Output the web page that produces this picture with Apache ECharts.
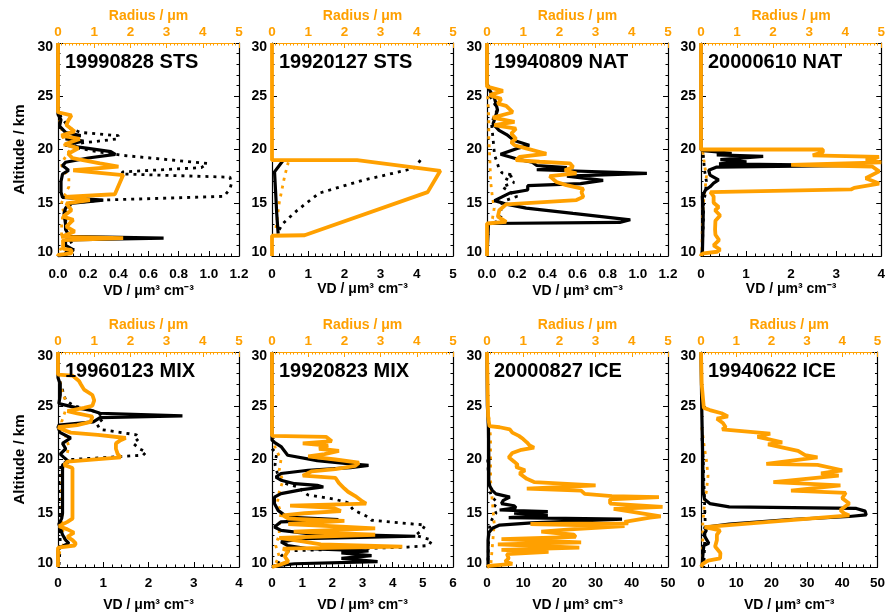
<!DOCTYPE html>
<html>
<head>
<meta charset="utf-8">
<script src="https://cdn.jsdelivr.net/npm/echarts@6/dist/echarts.min.js"></script>
<style>
html,body{margin:0;padding:0;background:#fff;}
#chart{width:888px;height:616px;}
</style>
</head>
<body>
<div id="chart"></div>
<script>
// ---------- DATA ----------
const panelTitles = ['19990828 STS','19920127 STS','19940809 NAT','20000610 NAT','19960123 MIX','19920823 MIX','20000827 ICE','19940622 ICE'];
const vdMax = [1.2, 5, 1.2, 4, 4, 6, 50, 50];
const vdStep = [0.2, 1, 0.2, 1, 1, 1, 10, 10];
const vdDecimals = [1, 0, 1, 0, 0, 0, 0, 0];
const radiusTicks = [0, 1, 2, 3, 4, 5];
const altitudeTicks = [10, 15, 20, 25, 30];

// each point: [value, altitude km]
// Panel 1: 19990828 STS
const p1VD = [[0,30],[0,23.3],[0.02,22.8],[0.01,22.2],[0.05,21.6],[0.15,21.3],[0.05,21.0],[0.17,20.8],[0.05,20.4],[0.2,20.1],[0.35,19.8],[0.38,19.55],[0.2,19.2],[0.05,18.8],[0.03,18.5],[0.07,18.05],[0.03,17.7],[0.02,17.0],[0.02,16.0],[0.03,15.5],[0.2,15.35],[0.3,15.24],[0.08,14.95],[0.05,14.5],[0.04,14.0],[0.05,13.0],[0.05,12.5],[0.07,12.0],[0.03,11.85],[0.7,11.68],[0.05,11.5],[0.05,11.0],[0.1,10.6],[0.05,10.3],[0.05,10.1],[0,10]];
const p1VDdot = [[0,24],[0.02,23],[0.08,22],[0.15,21.6],[0.4,21.3],[0.4,21.0],[0.15,20.6],[0.1,20.2],[0.3,19.7],[0.43,19.45],[0.99,18.7],[0.95,18.3],[0.43,17.9],[0.42,17.7],[1.14,17.4],[1.15,16.8],[1.14,16.3],[1.1,15.6],[0.3,15.25],[0.1,15.0],[0.06,14.5],[0.05,13.5],[0.06,12.5],[0.05,12.0],[0.08,11.5],[0.1,10.9],[0.1,10.5],[0.05,10.1]];
const p1R = [[0,30],[0,23.5],[0.37,23.2],[0.28,22.7],[0.23,22.3],[0.46,21.7],[0.09,21.3],[0.6,21.0],[0.19,20.5],[0.56,20.1],[0.28,19.6],[0.4,19.2],[1.16,18.7],[1.67,18.4],[0.42,18.05],[1.8,17.6],[1.57,15.8],[0.19,15.55],[0.88,15.25],[0.23,14.95],[0.37,14.3],[0.14,13.7],[0.42,13.4],[0.23,12.75],[0.46,12.3],[0.23,12.0],[0.09,11.8],[1.8,11.68],[0.14,11.5],[0.14,10.7],[0.37,10.55],[0.37,10.25],[0,10.1],[0,10]];
const p1Rdot = [[0,23.5],[0.1,22],[0.15,21],[0.2,20.2],[0.3,19.8],[0.15,19],[0.1,18.5],[0.3,17.3],[0.3,16.5],[0.2,15.8],[0.1,15],[0.15,14.2],[0.1,13],[0.1,12],[0.15,11.2],[0.05,10.5]];

// Panel 2: 19920127 STS
const p2VD = [[0.3,18.95],[0.07,17.9],[0.1,16],[0.13,14],[0.17,12.1]];
const p2VDdot = [[4.1,19.0],[3.95,18.3],[3.7,18.05],[2.5,17.1],[1.3,15.9],[0.7,14.3],[0.3,13.05],[0.17,12.3]];
const p2R = [[0,30],[0,19.0],[2.35,19.0],[4.65,18.0],[4.3,16.0],[0.9,11.95],[0,11.9],[0,10]];
const p2Rdot = [[0.45,18.8],[0.35,17.5],[0.2,15],[0.1,12.4]];

// Panel 3: 19940809 NAT
const p3VD = [[0,30],[0,26.2],[0.02,25.5],[0.05,24.8],[0.07,23.7],[0.04,22.4],[0.08,21.8],[0.13,21.4],[0.18,20.85],[0.28,20.4],[0.2,20.1],[0.09,19.55],[0.2,19.1],[0.3,18.8],[0.33,18.5],[0.53,18.3],[0.33,18.1],[1.06,17.75],[0.53,17.5],[0.77,17.1],[0.62,16.8],[0.27,16.6],[0.27,16.2],[0.15,15.9],[0.1,15.55],[0.05,15.2],[0.12,14.9],[0.26,14.5],[0.57,14.0],[0.95,13.4],[0.88,13.15],[0.01,13.05],[0,10]];
const p3VDdot = [[0.02,25],[0.07,23.8],[0.03,22.5],[0.04,21],[0.05,19.5],[0.08,18.2],[0.1,17.8],[0.18,17.6],[0.12,17.3],[0.18,16.9],[0.1,16.5],[0.2,15.6],[0.12,15.2],[0.08,14.8],[0.1,14],[0.08,13.3],[0.03,13.05]];
const p3R = [[0,30],[0,25.9],[0.44,25.5],[0.07,25.1],[0.39,24.75],[0.3,24.3],[0.53,24.1],[0.71,23.5],[0.16,23.0],[0.76,22.6],[0.2,22.3],[0.8,21.95],[0.67,21.5],[0.8,21.0],[0.67,20.7],[0.76,20.4],[1.08,20.1],[1.64,19.6],[0.9,19.3],[0.8,19.0],[1.45,18.85],[2.29,18.7],[2.38,18.35],[2.15,18.05],[2.47,17.75],[1.73,17.5],[1.92,16.95],[2.19,16.65],[2.66,16.3],[2.61,16.0],[2.66,15.55],[2.47,15.25],[0.53,14.85],[0.34,14.3],[0.3,13.7],[0.53,13.2],[0,13.05],[0,10]];
const p3Rdot = [[0.02,25],[0.05,23],[0.05,21],[0.08,19],[0.1,17],[0.15,15.5],[0.2,14.5],[0.15,13.5],[0.05,13]];

// Panel 4: 20000610 NAT
const p4VD = [[0,30],[0,20],[0.05,19.9],[0.68,19.65],[0.35,19.5],[1.38,19.35],[0.43,19.05],[1.01,18.85],[0.4,18.65],[3.5,18.5],[0.35,18.35],[0.17,18.05],[0.2,17.6],[0.39,17.15],[0.28,16.85],[0.2,16.5],[0.1,16.2],[0.03,15.6],[0.05,14],[0.04,12],[0.03,10]];
const p4VDdot = [[0.05,19.5],[0.08,18],[0.12,17],[0.1,16],[0.06,15],[0.05,13],[0.03,11],[0.02,10]];
const p4R = [[0,30],[0,20.0],[3.38,20.0],[3.38,19.75],[3.1,19.45],[4.94,19.3],[4.57,19.05],[5.0,18.8],[2.5,18.55],[4.75,18.4],[4.94,17.95],[4.57,17.3],[4.94,16.8],[4.25,16.4],[4.16,16.25],[0.26,16.0],[0.35,15.6],[0.35,15.0],[0.49,14.6],[0.39,14.3],[0.53,13.8],[0.4,13.3],[0.39,12.5],[0.4,12.0],[0.5,11.5],[0.35,11.0],[0.53,10.6],[0.45,10.4],[0.07,10.25],[0,10.1],[0,10]];
const p4Rdot = [[0.05,19.8],[0.1,18.5],[0.15,17.5],[0.12,16.5],[0.08,15.5],[0.05,14],[0.03,12],[0.02,10]];

// Panel 5: 19960123 MIX
const p5VD = [[0,30],[0,27.6],[0.05,27],[0.05,26],[0.02,25.2],[0.42,24.8],[0.71,24.6],[0.93,24.3],[2.75,24.05],[0.93,23.9],[0.78,23.5],[0.02,23.2],[0,23],[0.05,22.5],[0.28,22.0],[0.1,21.5],[0.17,21.0],[0.05,20.5],[0.13,20.2],[0.24,19.8],[0.1,19.5],[0.1,19],[0.1,17],[0.1,15],[0.08,14.5],[0.02,14],[0.06,13.5],[0.1,13],[0.17,12.5],[0.24,12.2],[0.13,12],[0.02,11.7],[0,11.5],[0,10]];
const p5VDdot = [[0,28],[0.06,27],[0.17,25.5],[0.35,25],[0.79,24.5],[0.93,24.2],[1.0,23.8],[0.86,23.3],[0.93,22.8],[1.73,22.3],[1.8,22.0],[1.66,21.5],[1.8,21.0],[1.95,20.7],[1.88,20.4],[0.28,20.0],[0.06,19.5],[0.05,18],[0.05,16],[0.04,14],[0.05,12],[0.02,10]];
const p5R = [[0,30],[0,27.9],[0.4,27.8],[0.58,27.3],[0.63,27.0],[0.72,26.5],[0.95,26.0],[1.0,25.5],[0.95,25.0],[0.72,24.8],[0.26,24.5],[0.53,24.3],[0.95,24.0],[0.9,23.5],[0.53,23.2],[0,23.0],[0.12,22.8],[0.35,22.5],[1.1,22.3],[1.87,22.0],[1.73,21.8],[1.6,21.5],[1.6,21.0],[1.65,20.5],[1.73,20.2],[0.26,19.8],[0.17,19.5],[0.4,19.2],[0.4,18],[0.4,16],[0.4,15],[0.4,14.5],[0.26,14.2],[0.03,13.8],[0.26,13.5],[0.44,13.2],[0.35,13.0],[0.26,12.8],[0.4,12.5],[0.49,12.2],[0.46,12.0],[0,11.8],[0,10]];
const p5Rdot = [[0,28],[0.1,26.5],[0.26,25],[0.2,24.5],[0.1,23.5],[0.2,22.3],[0.3,21.2],[0.25,20.5],[0.2,20],[0.12,19],[0.1,17],[0.12,15],[0.1,14],[0.15,13],[0.2,12.4],[0.05,11.5],[0,10]];

// Panel 6: 19920823 MIX
const p6VD = [[0,30],[0,21.8],[0.08,21.6],[0.3,21.2],[0.52,20.4],[1.5,19.9],[2.6,19.6],[3.2,19.46],[2.6,19.25],[1.2,19.0],[0.3,18.7],[0.13,18.37],[0.3,18.07],[0.75,17.75],[1.5,17.6],[1.7,17.44],[1.0,17.2],[0.3,16.83],[0.08,16.5],[0.08,15.9],[0.2,15.27],[0.5,14.65],[2.2,14.4],[0.3,14.2],[0.08,13.72],[0.3,13.4],[1.2,13.1],[4.75,12.86],[1.0,12.64],[0.3,12.33],[0.52,12.0],[1.2,11.7],[3.2,11.5],[2.3,11.3],[3.3,11.05],[2.3,10.8],[3.5,10.5],[0.75,10.3],[0.08,10.1],[0,10]];
const p6VDdot = [[0,21],[0.15,20.5],[0.1,19.5],[0.2,18.5],[0.4,17.8],[0.86,17.44],[1.19,16.7],[2.08,16.3],[2.5,16.0],[2.7,15.3],[3.19,14.65],[3.3,14.35],[5.08,13.9],[4.97,13.4],[4.75,12.95],[5.3,12.5],[5.2,12.0],[4.5,11.85],[0.5,11.5],[0.3,11],[0.2,10.3]];
const p6R = [[0,30],[0,22.2],[1.5,22.1],[1.65,21.7],[0.85,21.5],[1.55,21.3],[1.3,21.0],[1.85,20.8],[1.45,20.5],[1.0,20.3],[1.75,20.0],[2.4,19.7],[2.3,19.4],[1.75,19.1],[1.1,18.9],[0.85,18.5],[1.75,18.3],[1.85,17.8],[2.0,17.3],[2.1,17.0],[2.3,16.6],[2.5,16.1],[2.6,15.9],[0.5,15.7],[1.7,15.5],[1.9,15.2],[0.9,15.0],[0.3,14.8],[0.45,14.5],[2.0,14.3],[0.45,14.0],[2.85,13.6],[0.6,13.3],[2.85,13.0],[0.2,12.7],[0.8,12.4],[1.35,12.1],[3.6,11.9],[0.3,11.7],[0.45,11.5],[0.35,11.0],[0.45,10.5],[0.2,10.2],[0,10.0]];
const p6Rdot = [[0,22],[0.1,21],[0.25,20],[0.2,19],[0.3,18],[0.2,17],[0.15,16],[0.25,15],[0.2,14],[0.2,13],[0.1,12],[0.2,11],[0.05,10]];

// Panel 7: 20000827 ICE
const p7VD = [[0,30],[0.1,25],[0.4,23],[0.5,20],[0.5,18],[0.8,17.5],[1.5,17.1],[2.5,16.8],[6.3,16.5],[4.5,16.2],[4.0,15.9],[7.5,15.7],[8.0,15.5],[3.5,15.3],[16.8,15.15],[7.5,15.0],[16.8,14.8],[6,14.6],[37.3,14.45],[12.3,14.1],[3.5,13.9],[1.5,13.6],[0.5,13.2],[0.3,12.5],[0.3,10]];
const p7VDdot = [[0.2,20],[0.5,17.5],[1.2,16.6],[2.8,16.0],[1.8,15.5],[2.5,15.0],[1.5,14.5],[0.8,14.0],[0.5,13.0],[0.3,11],[0.2,10]];
const p7R = [[0,30],[0.03,24],[0.07,23.1],[0.35,23.0],[0.63,22.8],[0.7,22.5],[0.88,22.2],[1.0,21.9],[1.1,21.6],[1.18,21.3],[1.3,21.1],[0.95,20.9],[0.7,20.6],[0.6,20.2],[0.75,19.8],[0.85,19.5],[0.8,19.3],[1.05,19.0],[0.9,18.7],[1.1,18.2],[1.3,17.9],[3.0,17.6],[1.1,17.3],[2.6,17.1],[2.7,16.8],[3.45,16.6],[4.75,16.5],[3.4,16.3],[3.4,15.9],[4.85,15.6],[3.5,15.4],[4.8,14.7],[4.5,14.6],[3.8,14.2],[3.9,14.05],[1.2,14.0],[3.8,13.8],[2.3,13.5],[1.5,13.3],[2.4,13.0],[2.45,12.8],[0.4,12.6],[2.6,12.3],[0.3,12.1],[2.55,11.8],[0.4,11.6],[1.7,11.4],[0.55,11.2],[0.6,10.8],[0.5,10.5],[0.7,10.3],[0.05,10.1],[0,10]];
const p7Rdot = [[0.05,24],[0.1,22],[0.1,20],[0.1,18],[0.15,16],[0.2,14],[0.15,12],[0.1,10]];

// Panel 8: 19940622 ICE
const p8VD = [[0,30],[0.2,25],[0.5,20],[0.6,17],[1.0,16.3],[2.5,15.9],[8,15.6],[44,15.45],[46.5,15.2],[46.8,14.85],[42,14.7],[25,14.4],[8,14.0],[1,13.7],[1.5,13.4],[0.8,13],[2.2,12.2],[0.8,12],[0.5,11],[0.3,10]];
const p8VDdot = [[0.3,22],[0.6,20],[0.8,18],[1,16],[1.2,14],[1,12],[0.8,10]];
const p8R = [[0,30],[0.02,27],[0.08,24.8],[0.25,24.6],[0.58,24.3],[0.76,24.0],[0.45,23.8],[0.62,23.4],[0.7,23.0],[0.6,22.8],[1.96,22.4],[1.6,22.1],[1.9,21.9],[2.3,21.6],[1.9,21.4],[2.75,20.8],[2.95,20.4],[3.3,20.2],[1.85,19.6],[3.3,19.5],[4.0,19.0],[3.4,18.7],[3.9,18.5],[2.05,17.9],[3.95,17.6],[2.55,17.1],[4.1,16.9],[4.0,16.4],[4.2,15.9],[3.95,15.3],[4.05,15.0],[4.2,14.8],[0.1,13.7],[0.54,13.4],[0.45,13.0],[0.45,12.5],[0.4,11.9],[0.55,11.3],[0.54,10.8],[0.2,10.6],[0.05,10.3],[0,10]];
const p8Rdot = [[0.02,23],[0.1,21],[0.15,20],[0.2,18.5],[0.15,17],[0.1,16],[0.05,14],[0.05,12],[0.03,10]];

const vdSolid = [p1VD, p2VD, p3VD, p4VD, p5VD, p6VD, p7VD, p8VD];
const vdDotted = [p1VDdot, p2VDdot, p3VDdot, p4VDdot, p5VDdot, p6VDdot, p7VDdot, p8VDdot];
const rSolid = [p1R, p2R, p3R, p4R, p5R, p6R, p7R, p8R];
const rDotted = [p1Rdot, p2Rdot, p3Rdot, p4Rdot, p5Rdot, p6Rdot, p7Rdot, p8Rdot];

// ---------- LAYOUT / STYLE ----------
const ORANGE = '#FFA000';
const FONT = '"Liberation Sans", Arial, Helvetica, sans-serif';
const colLeft = [58, 272, 487, 701];
const rowTop = [43, 352];
const rowHeight = [213, 215];
const plotWidth = 181;

const grids = [], xAxes = [], yAxes = [], series = [], titles = [];
const lblFont = { fontFamily: FONT, fontWeight: 'bold', fontSize: 14, color: '#000' };

for (let i = 0; i < 8; i++) {
  const row = Math.floor(i / 4), col = i % 4;
  grids.push({ left: colLeft[col], top: rowTop[row], width: plotWidth, height: rowHeight[row], containLabel: false });

  const dec = vdDecimals[i];
  // bottom VD axis
  xAxes.push({
    type: 'value', gridIndex: i, position: 'bottom',
    min: 0, max: vdMax[i], interval: vdStep[i],
    axisLine: { show: true, onZero: false, lineStyle: { color: '#000', width: 1.2 } },
    axisTick: { show: true, inside: true, length: 5, lineStyle: { color: '#000', width: 1 } },
    minorTick: { show: true, splitNumber: dec ? 4 : 5, length: 2.5, lineStyle: { color: '#000', width: 1 } },
    splitLine: { show: false },
    axisLabel: { margin: row === 0 ? 11 : 9, color: '#000', fontFamily: FONT, fontWeight: 'bold', fontSize: 13.5,
      formatter: v => Number(v).toFixed(dec) },
    name: 'VD / μm³ cm⁻³', nameLocation: 'middle',
    nameGap: row === 0 ? (dec ? 28 : 22) : 31,
    nameTextStyle: { color: '#000', fontFamily: FONT, fontWeight: 'bold', fontSize: 14 }
  });
  // top Radius axis
  xAxes.push({
    type: 'value', gridIndex: i, position: 'top',
    min: 0, max: 5, interval: 1,
    axisLine: { show: true, onZero: false, lineStyle: { color: ORANGE, width: 1.2 } },
    axisTick: { show: true, inside: true, length: 5, lineStyle: { color: ORANGE, width: 1 } },
    minorTick: { show: true, splitNumber: 10, length: 2.5, lineStyle: { color: ORANGE, width: 1 } },
    splitLine: { show: false },
    axisLabel: { margin: 4, color: ORANGE, fontFamily: FONT, fontWeight: 'bold', fontSize: 13.5,
      formatter: v => String(radiusTicks[Math.round(v)]) },
    name: 'Radius / μm', nameLocation: 'middle', nameGap: 20,
    nameTextStyle: { color: ORANGE, fontFamily: FONT, fontWeight: 'bold', fontSize: 14 }
  });
  // left altitude axis
  const yLeft = {
    type: 'value', gridIndex: i, position: 'left',
    min: altitudeTicks[0], max: altitudeTicks[altitudeTicks.length - 1], interval: 5,
    axisLine: { show: true, onZero: false, lineStyle: { color: '#000', width: 1.2 } },
    axisTick: { show: true, inside: true, length: 5, lineStyle: { color: '#000', width: 1 } },
    minorTick: { show: true, splitNumber: 5, length: 2.5, lineStyle: { color: '#000', width: 1 } },
    splitLine: { show: false },
    axisLabel: {
      margin: 5, color: '#000', fontFamily: FONT, fontWeight: 'bold', fontSize: 14,
      formatter: v => v === 30 ? '{t|30}' : (v === 10 ? '{b|10}' : '{n|' + v + '}'),
      rich: {
        t: Object.assign({ padding: [8, 0, 0, 0] }, lblFont),
        b: Object.assign({ padding: [0, 0, 8, 0] }, lblFont),
        n: Object.assign({}, lblFont)
      }
    }
  };
  if (col === 0) {
    yLeft.name = 'Altitude / km';
    yLeft.nameLocation = 'middle';
    yLeft.nameGap = 31;
    yLeft.nameTextStyle = { color: '#000', fontFamily: FONT, fontWeight: 'bold', fontSize: 15 };
  }
  yAxes.push(yLeft);
  // right axis (ticks only)
  yAxes.push({
    type: 'value', gridIndex: i, position: 'right',
    min: 10, max: 30, interval: 5,
    axisLine: { show: true, onZero: false, lineStyle: { color: '#000', width: 1.2 } },
    axisTick: { show: true, inside: true, length: 5, lineStyle: { color: '#000', width: 1 } },
    minorTick: { show: true, splitNumber: 5, length: 2.5, lineStyle: { color: '#000', width: 1 } },
    splitLine: { show: false },
    axisLabel: { show: false }
  });

  const xb = 2 * i, xt = 2 * i + 1, yl = 2 * i;
  const base = { type: 'line', symbol: 'none', showSymbol: false, clip: true, silent: true, animation: false };
  series.push(Object.assign({}, base, { xAxisIndex: xb, yAxisIndex: yl, data: vdDotted[i], z: 2,
    lineStyle: { color: '#000', width: 2.8, type: [3, 5], cap: 'butt' } }));
  series.push(Object.assign({}, base, { xAxisIndex: xt, yAxisIndex: yl, data: rDotted[i], z: 3,
    lineStyle: { color: ORANGE, width: 2.8, type: [3, 5], cap: 'butt' } }));
  series.push(Object.assign({}, base, { xAxisIndex: xb, yAxisIndex: yl, data: vdSolid[i], z: 4,
    lineStyle: { color: '#000', width: 3.2 } }));
  series.push(Object.assign({}, base, { xAxisIndex: xt, yAxisIndex: yl, data: rSolid[i], z: 5,
    lineStyle: { color: ORANGE, width: 3.8 } }));

  titles.push({
    text: panelTitles[i], left: colLeft[col] + 7, top: row === 0 ? 52 : 361, padding: 0,
    textStyle: { color: '#000', fontFamily: FONT, fontWeight: 'bold', fontSize: 20 }
  });
}

const chart = echarts.init(document.getElementById('chart'), null, { renderer: 'canvas' });
chart.setOption({
  backgroundColor: '#fff',
  animation: false,
  title: titles,
  grid: grids,
  xAxis: xAxes,
  yAxis: yAxes,
  series: series
});
</script>
</body>
</html>
